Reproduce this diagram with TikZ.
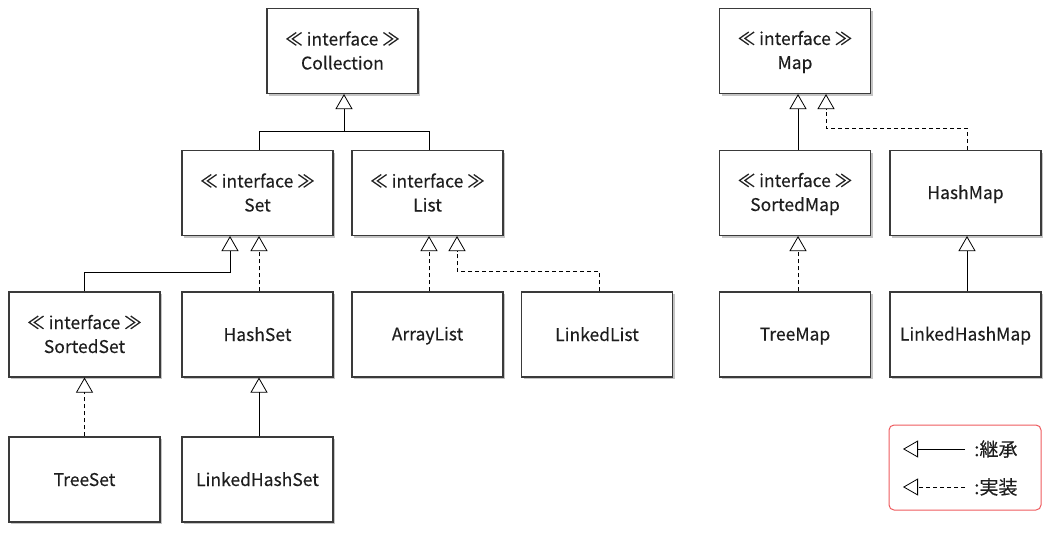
\documentclass[tikz,border=0pt]{standalone}
\usepackage{fontspec}
\setmainfont{Noto Sans CJK JP}[FakeBold=0.12]
\usetikzlibrary{arrows.meta,shadows}
\definecolor{boxline}{HTML}{3A3A3A}
\definecolor{txt}{HTML}{1E1E1E}
\definecolor{shade}{HTML}{C4C4C4}
\definecolor{legred}{HTML}{EE5A5E}
\newcommand{\st}{\rule[-3pt]{0pt}{19pt}}
\newcommand{\ifc}{\st ≪ interface ≫}
\begin{document}
\begin{tikzpicture}[x=1pt,y=-1pt,
  cls/.style={draw=boxline, line width=1.1pt, fill=white,
    minimum width=151pt, minimum height=85pt, align=center,
    inner sep=0pt, text=txt, font=\fontsize{17.5}{24}\selectfont,
    drop shadow={shadow xshift=2pt, shadow yshift=-2pt, fill=shade, opacity=1}},
  inh/.style={-{Triangle[open,length=15pt,width=17pt,line width=0.8pt]}, line width=0.8pt, draw=black},
  impl/.style={inh, dash pattern=on 4pt off 3pt},
  plain/.style={line width=0.8pt, draw=black},
  lbl/.style={anchor=west, inner sep=0pt, text=txt, font=\fontsize{19}{20}\selectfont}]
\useasboundingbox (0,0) rectangle (1054,536);
% boxes
\node[cls] (collection) at (342.5,51) {\ifc\\\st Collection};
\node[cls] (set) at (257.5,193) {\ifc\\\st Set};
\node[cls] (list) at (427.5,193) {\ifc\\\st List};
\node[cls] (sortedset) at (84.5,334.5) {\ifc\\\st SortedSet};
\node[cls] (hashset) at (257.5,334.5) {\st HashSet};
\node[cls] (arraylist) at (427.5,334.5) {\st ArrayList};
\node[cls] (linkedlist) at (597,334.5) {\st LinkedList};
\node[cls] (treeset) at (84.5,479.5) {\st TreeSet};
\node[cls] (linkedhashset) at (257.5,479.5) {\st LinkedHashSet};
\node[cls] (map) at (795,51) {\ifc\\\st Map};
\node[cls] (sortedmap) at (795,193) {\ifc\\\st SortedMap};
\node[cls] (hashmap) at (965.5,193) {\st HashMap};
\node[cls] (treemap) at (795,334.5) {\st TreeMap};
\node[cls] (linkedhashmap) at (965.5,334.5) {\st LinkedHashMap};
% Collection
\draw[plain] ([xshift=1.5pt]set.north) -- ++(0,-19) -| ([xshift=1.5pt]list.north);
\draw[inh] ([xshift=1.5pt,yshift=19pt]set.north -| collection.south) -- ([xshift=1.5pt]collection.south);
% Set
\draw[inh] (sortedset.north) -- ++(0,-19) -| ([xshift=-27.5pt]set.south);
\draw[impl] ([xshift=1.5pt]hashset.north) -- ([xshift=1.5pt]set.south);
% List
\draw[impl] ([xshift=1.5pt]arraylist.north) -- ([xshift=1.5pt]list.south);
\draw[impl] ([xshift=2pt]linkedlist.north) -- ++(0,-20) -| ([xshift=29.5pt]list.south);
% Sorted set / hashset
\draw[impl] (treeset.north) -- (sortedset.south);
\draw[inh] ([xshift=1.5pt]linkedhashset.north) -- ([xshift=1.5pt]hashset.south);
% Map
\draw[inh] ([xshift=3pt]sortedmap.north) -- ([xshift=3pt]map.south);
\draw[impl] ([xshift=1.5pt]hashmap.north) -- ++(0,-22) -| ([xshift=31pt]map.south);
\draw[impl] ([xshift=3pt]treemap.north) -- ([xshift=3pt]sortedmap.south);
\draw[inh] ([xshift=1.5pt]linkedhashmap.north) -- ([xshift=1.5pt]hashmap.south);
% legend
\node[draw=legred, line width=1pt, rounded corners=5pt, minimum width=152pt, minimum height=85pt] (legend) at (965,467.5) {};
\coordinate (a1) at (965,449); \coordinate (b1) at (903,449);
\coordinate (a2) at (965,487); \coordinate (b2) at (903,487);
\draw[inh] (a1) -- (b1);
\draw[impl] (a2) -- (b2);
\node[lbl] (t1) at (974,449) {:継承};
\node[lbl] (t2) at (974,487) {:実装};
\end{tikzpicture}
\end{document}
